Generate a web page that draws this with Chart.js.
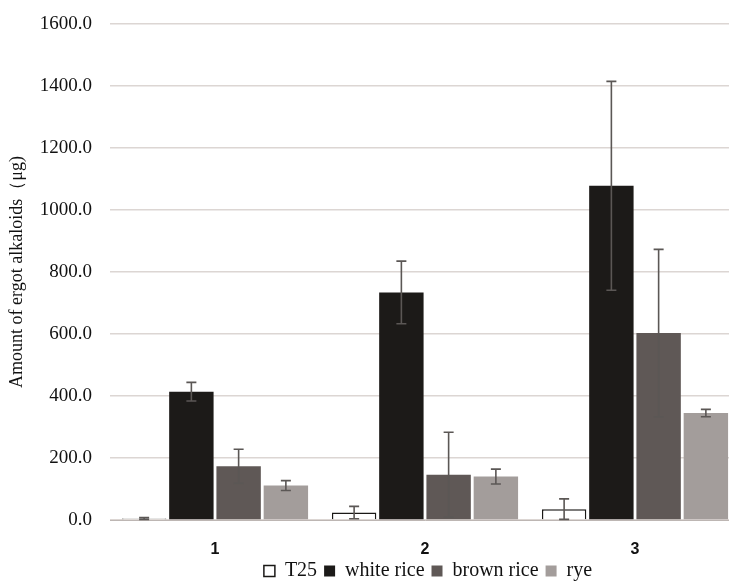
<!DOCTYPE html>
<html>
<head>
<meta charset="utf-8">
<script src="https://cdn.jsdelivr.net/npm/chart.js@4"></script>
<style>
  html, body { margin: 0; padding: 0; background: #ffffff; overflow: hidden; }
  /* the original figure is cropped on the right, so the canvas runs a little past the window */
  #wrap { width: 729px; height: 583px; overflow: hidden; }
</style>
</head>
<body>
<div id="wrap"><canvas id="ergotChart" width="740" height="583"></canvas></div>
<script>
// --- data ---
const groups = ["1", "2", "3"];
const yTicks = [0, 200, 400, 600, 800, 1000, 1200, 1400, 1600];

const t25 = [5, 24, 35];
const t25Err = [3, 20, 33];
const whiteRice = [414, 734, 1078];
const whiteRiceErr = [30, 101, 337];
const brownRice = [173, 146, 603];
const brownRiceErr = [55, 137, 270];
const rye = [111, 140, 345];
const ryeErr = [16, 24, 12];

// simple error bar drawing, positioned through the chart's own scales
const errorBars = {
  id: "errorBars",
  afterDatasetsDraw(chart) {
    const ctx = chart.ctx;
    const y = chart.scales.y;
    ctx.save();
    ctx.strokeStyle = "#5b5755";
    ctx.lineWidth = 1.6;
    chart.data.datasets.forEach(function (ds, di) {
      const meta = chart.getDatasetMeta(di);
      if (meta.hidden || !ds.errors) return;
      meta.data.forEach(function (bar, i) {
        const v = ds.data[i];
        const e = ds.errors[i];
        const top = y.getPixelForValue(v + e);
        const bot = y.getPixelForValue(Math.max(v - e, 0));
        const x = bar.x;
        ctx.beginPath();
        ctx.moveTo(x, top);
        ctx.lineTo(x, bot);
        ctx.moveTo(x - 5, top);
        ctx.lineTo(x + 5, top);
        ctx.moveTo(x - 5, bot);
        ctx.lineTo(x + 5, bot);
        ctx.stroke();
      });
    });
    ctx.restore();
  }
};

// put the legend under the plot area, near the bottom edge
const legendUnderPlot = {
  id: "legendUnderPlot",
  afterLayout(chart) {
    const lg = chart.legend;
    if (!lg) return;
    lg.left = chart.chartArea.left + 6;
    lg.right = chart.chartArea.right;
    lg.top = 554;
    lg.bottom = chart.height;
    lg.width = lg.right - lg.left;
    lg.height = lg.bottom - lg.top;
  }
};

const serif = "'Liberation Serif', 'Times New Roman', serif";

new Chart(document.getElementById("ergotChart"), {
  type: "bar",
  data: {
    labels: groups,
    datasets: [
      { label: "T25", data: t25, errors: t25Err, backgroundColor: "#ffffff", borderColor: "#1a1816", borderWidth: 1.5 },
      { label: "white rice", data: whiteRice, errors: whiteRiceErr, backgroundColor: "#1c1a18", borderWidth: 0 },
      { label: "brown rice", data: brownRice, errors: brownRiceErr, backgroundColor: "#5f5856", borderWidth: 0 },
      { label: "rye", data: rye, errors: ryeErr, backgroundColor: "#a39d9b", borderWidth: 0 }
    ]
  },
  plugins: [errorBars, legendUnderPlot],
  options: {
    responsive: false,
    animation: false,
    layout: { padding: { top: 24, right: 0, bottom: 0, left: 0 } },
    datasets: { bar: { categoryPercentage: 0.9, barPercentage: 0.94 } },
    plugins: {
      tooltip: { enabled: false },
      legend: {
        position: "bottom",
        maxHeight: 20,
        labels: {
          color: "#111111",
          font: { family: serif, size: 20, lineHeight: 1 },
          boxWidth: 11,
          boxHeight: 11,
          padding: 7,
          useBorderRadius: false
        }
      }
    },
    scales: {
      x: {
        afterFit: function (scale) { scale.height = 43; },
        grid: { display: false },
        border: { display: true, color: "#bdb6b3", width: 1 },
        ticks: {
          color: "#111111",
          font: { family: "'Liberation Sans', Arial, sans-serif", size: 16, weight: "bold" },
          padding: 12
        }
      },
      y: {
        min: 0,
        max: 1600,
        afterBuildTicks: function (scale) {
          scale.ticks = yTicks.map(function (v) { return { value: v }; });
        },
        afterFit: function (scale) { scale.width = 110; },
        // invisible tick marks give the gap between labels and the plot
        grid: { color: "#dcd6d3", lineWidth: 1.5, drawTicks: true, tickLength: 18, tickColor: "rgba(0,0,0,0)" },
        border: { display: false },
        ticks: {
          color: "#111111",
          font: { family: serif, size: 19 },
          padding: 0,
          callback: function (v) { return Number(v).toFixed(1); }
        },
        title: {
          display: true,
          text: "Amount of ergot alkaloids（μg)",
          color: "#111111",
          font: { family: serif, size: 18 },
          padding: { top: 6, bottom: 0 }
        }
      }
    }
  }
});
</script>
</body>
</html>
